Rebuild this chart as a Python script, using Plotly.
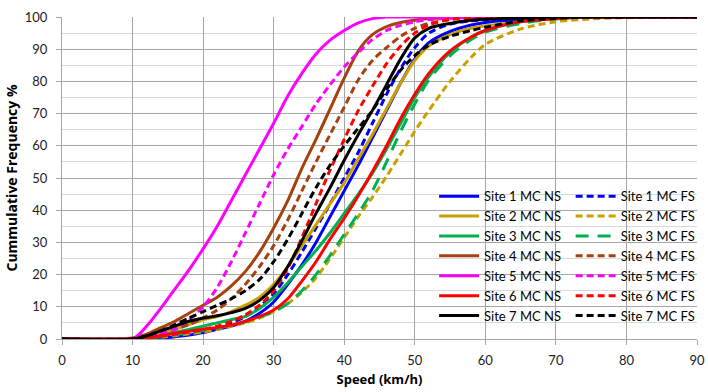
import plotly.graph_objects as go

# Speed grid (km/h)
speed = [0, 10, 12, 14, 16, 18, 20, 22, 24, 26, 28, 30, 32, 34, 36, 38, 40, 42, 44, 46,
         48, 50, 52, 55, 58, 60, 65, 70, 75, 80, 90]

# Cumulative frequency (%) per series
site1_ns = [0, 0, 0, 0.3, 0.7, 1.2, 2, 3, 4, 5.5, 8, 11.5, 17, 23, 30, 38, 46, 54, 62.5, 71,
            79.5, 87, 92, 95.5, 97.5, 98.3, 99.3, 100, 100, 100, 100]
site1_fs = [0, 0, 0, 0.3, 0.8, 1.5, 2.5, 3.5, 5, 7, 10, 14, 20, 27, 34.5, 42, 50, 58, 67, 76,
            84, 90.5, 95, 97.8, 98.8, 99.2, 99.7, 100, 100, 100, 100]
site2_ns = [0, 0, 0.5, 1.5, 3, 4.5, 6, 7, 8.5, 10.5, 13, 17, 22.5, 29, 35.5, 42, 48.5, 56, 63.5, 71.5,
            79.5, 86.5, 91, 94.5, 96.5, 97.2, 98.5, 99.5, 100, 100, 100]
site2_fs = [0, 0, 0.2, 0.5, 1, 1.6, 2.2, 3, 4, 5, 6.5, 8.5, 11, 14.5, 19, 25, 31.5, 38, 44, 50.5,
            57.5, 64.5, 71, 80, 87.5, 91.5, 96.3, 98.5, 99.4, 99.8, 100]
site3_ns = [0, 0, 0.3, 1, 2, 3, 4, 5, 6, 7, 9.5, 13, 17.5, 22.5, 27.5, 33, 39, 45, 51.5, 59,
            67, 75, 81.5, 89, 93.8, 95.8, 98.5, 99.5, 100, 100, 100]
site3_fs = [0, 0, 0.2, 0.7, 1.3, 2, 2.6, 3.3, 4.3, 5.3, 6.8, 8.5, 11, 15, 20, 26, 32.5, 39, 46, 55,
            64.5, 73, 80.5, 88, 93, 95.3, 98, 99.4, 100, 100, 100]
site4_ns = [0, 0.3, 1.5, 3.5, 5.5, 8, 10.5, 13, 16.5, 21, 27, 34.5, 43, 53, 62, 71.5, 81, 89.5, 94.5, 97,
            98.3, 99, 99.5, 99.8, 100, 100, 100, 100, 100, 100, 100]
site4_fs = [0, 0, 0.5, 1.5, 3, 4.5, 6.5, 9, 12.5, 17, 22.5, 29, 37, 46, 55, 63.5, 72, 80.5, 86.5, 90.5,
            94, 96.5, 98, 99.2, 99.7, 99.8, 100, 100, 100, 100, 100]
site5_ns = [0, 0, 4, 9.5, 15.5, 21.5, 28, 35, 43, 51, 59, 67, 75.5, 82.5, 88.5, 92.8, 95.8, 98.2, 99.5, 100,
            100, 100, 100, 100, 100, 100, 100, 100, 100, 100, 100]
site5_fs = [0, 0, 0.5, 1.5, 3, 6, 10, 16, 24, 33, 42, 51, 59, 66, 73, 79, 84.5, 89, 93, 95.8,
            97.4, 98.5, 99.2, 99.6, 99.9, 100, 100, 100, 100, 100, 100]
site6_ns = [0, 0, 0.3, 1, 1.8, 2.4, 3, 3.6, 4.3, 5.5, 7, 9, 12.5, 18, 24, 31, 37.5, 44.5, 52, 60,
            68.5, 76, 82.5, 89.5, 93.8, 95.8, 98.6, 99.5, 100, 100, 100]
site6_fs = [0, 0, 0.3, 0.8, 1.5, 2.2, 3, 4, 5.5, 7.5, 10.5, 15, 22, 31.5, 42, 52.5, 62, 71, 78.5, 85.5,
            91, 95, 97.5, 99.3, 99.8, 100, 100, 100, 100, 100, 100]
site7_ns = [0, 0, 1, 2.5, 4, 5.5, 6.5, 7.2, 8.2, 9.5, 12, 16, 22.5, 30.5, 39, 47, 55.5, 63.5, 71, 79,
            87, 93.5, 96.5, 98, 99, 99.3, 99.7, 100, 100, 100, 100]
site7_fs = [0, 0, 1, 2.5, 4.5, 6.5, 8.5, 10.5, 12.5, 15, 18.5, 24, 31, 39, 47, 54, 60, 65.5, 71, 77.5,
            83.5, 88, 91.3, 94, 95.8, 96.8, 98.8, 99.6, 100, 100, 100]

names_ns = ["Site 1 MC NS", "Site 2 MC NS", "Site 3 MC NS", "Site 4 MC NS",
            "Site 5 MC NS", "Site 6 MC NS", "Site 7 MC NS"]
names_fs = ["Site 1 MC FS", "Site 2 MC FS", "Site 3 MC FS", "Site 4 MC FS",
            "Site 5 MC FS", "Site 6 MC FS", "Site 7 MC FS"]
values_ns = [site1_ns, site2_ns, site3_ns, site4_ns, site5_ns, site6_ns, site7_ns]
values_fs = [site1_fs, site2_fs, site3_fs, site4_fs, site5_fs, site6_fs, site7_fs]
colors = ["#0000FF", "#C9A000", "#00B050", "#A5410E", "#FF00FF", "#FF0000", "#000000"]
dashes_fs = ["7px,4px", "7px,4px", "13px,9px", "7px,4px", "7px,4px", "7px,4px", "7px,4px"]

x_ticks = list(range(0, 91, 10))
y_ticks = list(range(0, 101, 10))

FONT = "Lato, 'Open Sans', sans-serif"
TITLE_FONT = "'Open Sans', Lato, sans-serif"

fig = go.Figure()
for i in range(7):
    fig.add_trace(go.Scatter(
        x=speed, y=values_ns[i], name=names_ns[i], mode="lines",
        line=dict(color=colors[i], width=3, shape="spline", smoothing=0.8),
        legend="legend"))
    fig.add_trace(go.Scatter(
        x=speed, y=values_fs[i], name=names_fs[i], mode="lines",
        line=dict(color=colors[i], width=3, shape="spline", smoothing=0.8, dash=dashes_fs[i]),
        legend="legend2"))

legend_common = dict(
    bgcolor="rgba(0,0,0,0)", borderwidth=0, font=dict(family=FONT, size=13, color="#000"),
    xanchor="left", yanchor="top", tracegroupgap=0, itemwidth=40,
)

fig.update_layout(
    width=708, height=392,
    margin=dict(l=62, r=7, t=17, b=53),
    paper_bgcolor="white", plot_bgcolor="white",
    font=dict(family=FONT, size=13, color="#000"),
    showlegend=True,
    legend=dict(x=0.586, y=0.49, **legend_common),
    legend2=dict(x=0.801, y=0.49, **legend_common),
    xaxis=dict(
        range=[0, 90], tickvals=x_ticks, ticktext=[str(v) for v in x_ticks],
        showgrid=True, gridcolor="#A6A6A6", gridwidth=1,
        showline=True, linecolor="#A6A6A6", linewidth=1,
        zeroline=False, ticks="outside", ticklen=5, tickcolor="#A6A6A6",
        ticklabelstandoff=4, ticklabeloverflow="allow", automargin=False,
        tickfont=dict(size=13, color="#222"),
        title=dict(text="<b>Speed (km/h)</b>", font=dict(family=TITLE_FONT, size=13), standoff=8),
    ),
    yaxis=dict(
        range=[0, 100], tickvals=y_ticks, ticktext=[str(v) for v in y_ticks],
        showgrid=True, gridcolor="#A6A6A6", gridwidth=1,
        minor=dict(dtick=5, showgrid=True, gridcolor="#D9D9D9", gridwidth=1),
        showline=True, linecolor="#A6A6A6", linewidth=1,
        zeroline=False, ticks="outside", ticklen=5, tickcolor="#A6A6A6",
        ticklabelstandoff=6, automargin=False,
        tickfont=dict(size=13, color="#222"),
        title=dict(text="<b>Cummulative Frequency %</b>", font=dict(family=TITLE_FONT, size=14), standoff=3),
    ),
)

fig.write_html("out.html", config={"displayModeBar": False},
               post_script="document.body.style.margin='0';document.body.style.overflow='hidden';")
